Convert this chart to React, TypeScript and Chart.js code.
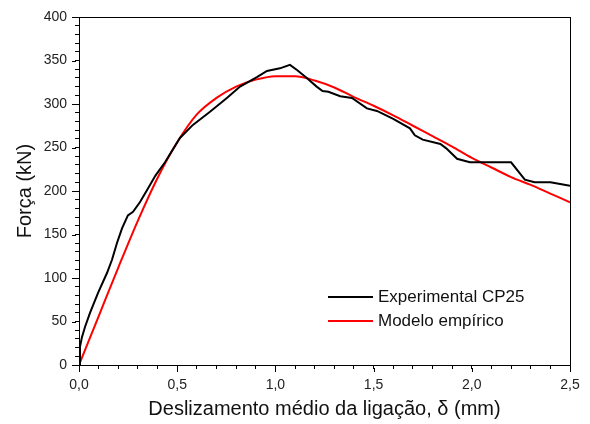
import React, { useEffect, useRef } from "react";
import { Chart, registerables } from "chart.js";

Chart.register(...registerables);

const expX = [0, 0.005, 0.015, 0.031, 0.056, 0.097, 0.143, 0.168, 0.193, 0.219, 0.249, 0.275, 0.31, 0.346, 0.39, 0.438, 0.514, 0.58, 0.667, 0.753, 0.82, 0.906, 0.957, 1.023, 1.074, 1.11, 1.16, 1.21, 1.24, 1.27, 1.33, 1.39, 1.466, 1.517, 1.6, 1.685, 1.71, 1.75, 1.84, 1.87, 1.925, 1.99, 2.1, 2.16, 2.2, 2.27, 2.32, 2.4, 2.45, 2.5];
const expY = [0, 21, 32, 44, 60, 83, 106, 121, 140, 157, 172, 176, 187, 201, 218, 233, 261, 276, 291, 307, 320, 331, 338, 341, 345, 339, 330, 320, 315, 314, 309, 307, 295, 292, 283, 272, 264, 259, 254, 249, 237, 233, 233, 233, 233, 213, 210, 210, 208, 206];

const modX = [0, 0.1, 0.2, 0.3, 0.4, 0.5, 0.6, 0.7, 0.8, 0.9, 1.0, 1.1, 1.2, 1.3, 1.4, 1.5, 1.6, 1.7, 1.8, 1.9, 2.0, 2.1, 2.2, 2.3, 2.4, 2.5];
const modY = [0, 56, 112, 166, 215, 256, 288, 307, 320, 328, 332, 332, 327, 319, 308, 298, 287, 275, 263, 251, 238, 227, 216, 207, 197, 187];

const xMin = 0;
const xMax = 2.5;
const xMinorStep = 0.1;
const xMajorEvery = 5;
const yMin = 0;
const yMax = 400;
const yMinorStep = 10;
const yMajorEvery = 5;

const seriesLabels = ["Experimental CP25", "Modelo empírico"];
const seriesColors = ["#000000", "#ff0000"];
const xTitle = "Deslizamento médio da ligação, δ (mm)";
const yTitle = "Força (kN)";

const FONT = "'Liberation Sans', Arial, sans-serif";

const isMajor = (v: number, step: number, every: number) =>
  Math.round(v / step) % every === 0;

const extrasPlugin = {
  id: "extras",
  afterDraw(chart: any) {
    const ctx = chart.ctx;
    const xs = chart.scales.x;
    const ys = chart.scales.y;
    const L = xs.getPixelForValue(xMin);
    const B = ys.getPixelForValue(yMin);
    ctx.save();
    ctx.strokeStyle = "#000000";
    ctx.lineWidth = 1;
    ctx.beginPath();
    // lengthen major ticks
    const nx = Math.round((xMax - xMin) / xMinorStep);
    for (let i = 0; i <= nx; i += xMajorEvery) {
      const px = Math.round(xs.getPixelForValue(xMin + i * xMinorStep)) + 0.5;
      ctx.moveTo(px, Math.round(B) + 3);
      ctx.lineTo(px, Math.round(B) + 7);
    }
    const ny = Math.round((yMax - yMin) / yMinorStep);
    for (let i = 0; i <= ny; i += yMajorEvery) {
      const py = Math.round(ys.getPixelForValue(yMin + i * yMinorStep)) + 0.5;
      ctx.moveTo(Math.round(L) - 3, py);
      ctx.lineTo(Math.round(L) - 7, py);
    }
    ctx.stroke();
    // legend
    ctx.font = "17px " + FONT;
    ctx.textBaseline = "middle";
    ctx.textAlign = "left";
    chart.data.datasets.forEach((ds: any, i: number) => {
      const y = 297 + i * 24;
      ctx.fillStyle = ds.borderColor;
      ctx.fillRect(328, y - 1, 45, 2);
      ctx.fillStyle = "#111";
      ctx.fillText(ds.label, 378, y);
    });
    ctx.restore();
  },
};

export default function App() {
  const ref = useRef<HTMLCanvasElement>(null);
  useEffect(() => {
    if (!ref.current) return;
    const chart = new Chart(ref.current, {
      type: "line",
      data: {
        datasets: [
          {
            label: seriesLabels[0],
            data: expX.map((x, i) => ({ x, y: expY[i] })),
            borderColor: seriesColors[0],
            borderWidth: 2,
            pointRadius: 0,
            tension: 0,
            fill: false,
            xAxisID: "x",
            yAxisID: "y",
          },
          {
            label: seriesLabels[1],
            data: modX.map((x, i) => ({ x, y: modY[i] })),
            borderColor: seriesColors[1],
            borderWidth: 2,
            pointRadius: 0,
            cubicInterpolationMode: "monotone",
            fill: false,
            xAxisID: "x",
            yAxisID: "y",
          },
        ],
      },
      options: {
        responsive: false,
        animation: false,
        layout: { padding: { left: 0, top: 17, right: 20, bottom: 0 } },
        plugins: { legend: { display: false }, tooltip: { enabled: false } },
        scales: {
          x: {
            type: "linear",
            position: "bottom",
            min: xMin,
            max: xMax,
            grid: {
              display: true,
              drawOnChartArea: false,
              drawTicks: true,
              tickLength: 4,
              tickColor: "#000",
              color: "#000",
            },
            border: { display: true, color: "#000", width: 1 },
            ticks: {
              stepSize: xMinorStep,
              autoSkip: false,
              padding: 8,
              color: "#222",
              font: { family: FONT, size: 14 },
              maxRotation: 0,
              callback: (v: any) =>
                isMajor(Number(v), xMinorStep, xMajorEvery)
                  ? Number(v).toFixed(1).replace(".", ",")
                  : "",
            },
            title: {
              display: true,
              text: xTitle,
              color: "#111",
              font: { family: FONT, size: 20 },
              padding: { top: 0, bottom: 3 },
            },
            afterFit: (s: any) => {
              s.height = 59;
            },
          },
          x2: {
            type: "linear",
            position: "top",
            min: xMin,
            max: xMax,
            grid: { display: false, drawTicks: false },
            border: { display: true, color: "#000", width: 1 },
            ticks: { display: false },
            afterFit: (s: any) => {
              s.height = 0;
            },
          },
          y: {
            position: "left",
            min: yMin,
            max: yMax,
            grid: {
              display: true,
              drawOnChartArea: false,
              drawTicks: true,
              tickLength: 4,
              tickColor: "#000",
              color: "#000",
            },
            border: { display: true, color: "#000", width: 1 },
            ticks: {
              stepSize: yMinorStep,
              autoSkip: false,
              padding: 8,
              color: "#222",
              font: { family: FONT, size: 14 },
              callback: (v: any) =>
                isMajor(Number(v), yMinorStep, yMajorEvery) ? String(v) : "",
            },
            title: {
              display: true,
              text: yTitle,
              color: "#111",
              font: { family: FONT, size: 20 },
              padding: { top: 13, bottom: 0 },
            },
            afterFit: (s: any) => {
              s.width = 79;
            },
          },
          y2: {
            position: "right",
            min: yMin,
            max: yMax,
            grid: { display: false, drawTicks: false },
            border: { display: true, color: "#000", width: 1 },
            ticks: { display: false },
            afterFit: (s: any) => {
              s.width = 0;
            },
          },
        },
      },
      plugins: [extrasPlugin],
    });
    return () => chart.destroy();
  }, []);
  return (
    <div style={{ position: "absolute", left: 0, top: 0, width: 590, height: 424, background: "#fff" }}>
      <canvas ref={ref} width={590} height={424} />
    </div>
  );
}
